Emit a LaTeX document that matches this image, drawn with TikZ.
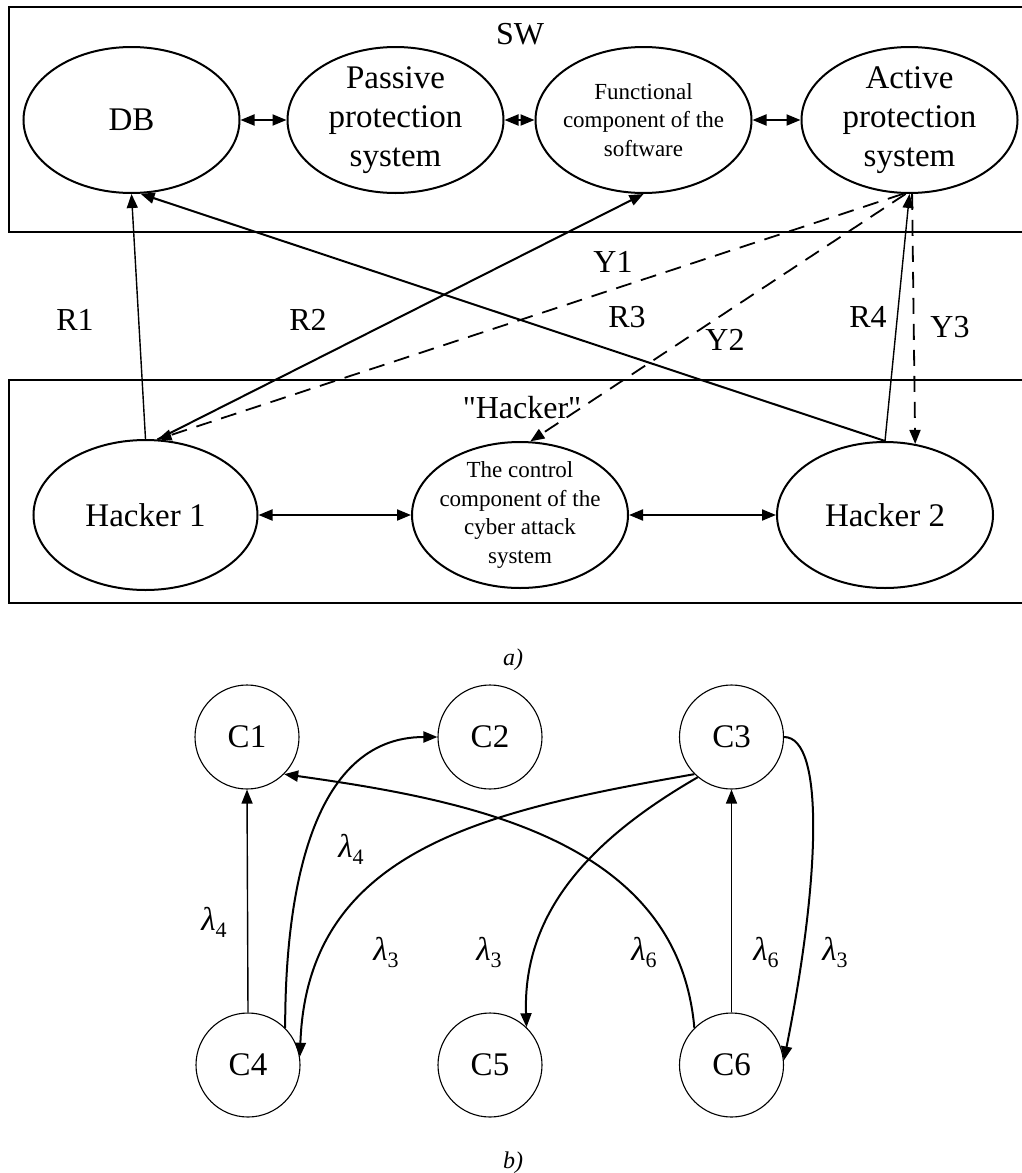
\documentclass[tikz,border=0pt]{standalone}
\usepackage{fontspec}
\setmainfont{Liberation Serif}
\newfontfamily\rawfont{Liberation Serif}
\usetikzlibrary{arrows.meta,shapes.geometric}
\newcommand{\mylam}[1]{\textit{λ}\raisebox{-7pt}{\fontsize{22}{22}\selectfont #1}}
\begin{document}
\begin{tikzpicture}[x=1pt,y=-1pt,
  big/.style={font=\fontsize{33}{39}\selectfont},
  small/.style={font=\fontsize{23}{28.5}\selectfont},
  ell/.style={ellipse, draw, line width=2pt, minimum width=216pt, minimum height=146pt, inner sep=0pt},
  tip/.style={-{Triangle[length=14pt,width=11pt]}},
  both/.style={{Triangle[length=14pt,width=11pt]}-{Triangle[length=14pt,width=11pt]}},
  thick2/.style={line width=2pt},
  thin2/.style={line width=1.4pt},
  dsh/.style={line width=1.8pt, dash pattern=on 16pt off 10pt},
  circ/.style={circle, draw, line width=1.1pt, minimum size=104pt, inner sep=0pt, font=\fontsize{33}{33}\selectfont},
  lab/.style={font=\fontsize{32}{32}\selectfont, inner sep=0pt},
  lamlab/.style={font=\fontsize{33}{33}\selectfont, inner sep=0pt},
]
\useasboundingbox (0,0) rectangle (1021,1173);
% boxes
\draw[line width=2pt] (9,7) rectangle (1040,232);
\draw[line width=2pt] (9,380) rectangle (1040,603);
\node[lab] (sw) at (520,34) {SW};
\node[lab] (hk) at (522,408) {\rawfont "Hacker"};
% top ellipses
\node[ell, label={[big,align=center]center:DB}] (DB) at (131.5,120) {};
\node[ell, label={[big,align=center]center:Passive\\protection\\system}] (P) at (395.5,120) {};
\node[ell, label={[small,align=center]center:Functional\\component of the\\software}] (F) at (643.5,120) {};
\node[ell, label={[big,align=center]center:Active\\protection\\system}] (A) at (909.5,120) {};
% bottom ellipses
\node[ell, minimum width=224pt, minimum height=150pt, label={[big]center:Hacker 1}] (H1) at (145.5,515) {};
\node[ell, label={[small,align=center]center:The control\\component of the\\cyber attack\\system}] (Ct) at (520,515) {};
\node[ell, label={[big]center:Hacker 2}] (H2) at (885,515) {};
% double arrows
\draw[thick2,both] (DB.east) -- (P.west);
\draw[thick2,both] (P.east) -- (F.west);
\draw[thick2,both] (F.east) -- (A.west);
\draw[thick2,both] (H1.east) -- (Ct.west);
\draw[thick2,both] (Ct.east) -- (H2.west);
% R connectors
\draw[thin2,tip] (H1.north) -- (DB.south);
\draw[thick2,tip] (H1.81) -- (F.south);
\draw[thick2,tip] (H2.north) -- (DB.-83);
\draw[thin2,tip] (H2.north) -- (A.south);
% Y connectors
\draw[dsh,tip] (A.-95) -- (H1.81);
\draw[dsh,tip] (A.-93) -- (Ct.82);
\draw[dsh,tip] (A.-88) -- (H2.67);
% labels
\node[lab] (r1) at (75,320) {R1};
\node[lab] (r2) at (308,320) {R2};
\node[lab] (r3) at (627,317) {R3};
\node[lab] (r4) at (868,317) {R4};
\node[lab] (y1) at (613,262) {Y1};
\node[lab] (y2) at (725,340) {Y2};
\node[lab] (y3) at (950,327) {Y3};
\node[font=\fontsize{24}{24}\selectfont\itshape] (ca) at (513,660) {a)};
% part b
\node[circ] (C1) at (247,737) {C1};
\node[circ] (C2) at (490,737) {C2};
\node[circ] (C3) at (731.5,737) {C3};
\node[circ] (C4) at (248,1065) {C4};
\node[circ] (C5) at (490,1065) {C5};
\node[circ] (C6) at (731.5,1065) {C6};
\draw[thin2,tip] (C4.north) -- (C1.south);
\draw[thin2,tip] (C6.north) -- (C3.south);
\draw[thick2,tip] (C4.45) to[out=90,in=180] (C2.west);
\draw[thick2,tip] (C6.135) to[out=95,in=-8] (C1.-45);
\draw[thick2,tip] (C3.225) to[out=190,in=88,looseness=1.1] (C4.9);
\draw[thick2,tip] (C3.230) to[out=210,in=92] (C5.46);
\draw[thick2,tip] (C3.east) .. controls (825,737) and (820,880) .. (C6.5);
\node[lamlab] (l1) at (214,922) {\mylam{4}};
\node[lamlab] (l2) at (351,849) {\mylam{4}};
\node[lamlab] (l3) at (386,952) {\mylam{3}};
\node[lamlab] (l4) at (489,952) {\mylam{3}};
\node[lamlab] (l5) at (644,952) {\mylam{6}};
\node[lamlab] (l6) at (766,952) {\mylam{6}};
\node[lamlab] (l7) at (835,952) {\mylam{3}};
\node[font=\fontsize{24}{24}\selectfont\itshape] (cb) at (513,1163) {b)};
\end{tikzpicture}
\end{document}
